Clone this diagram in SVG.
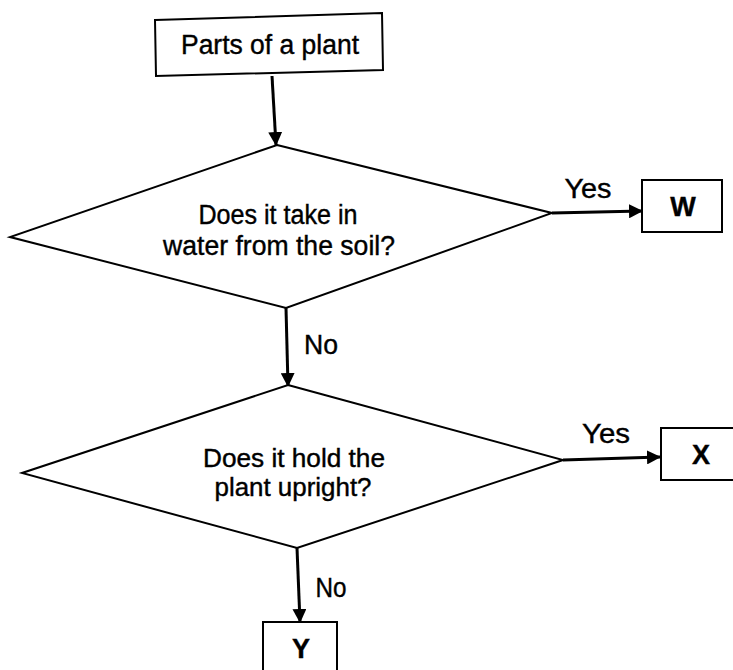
<svg xmlns="http://www.w3.org/2000/svg" width="733" height="670" viewBox="0 0 733 670">
<defs>
<style>
.shape{fill:#fff;stroke:#000;stroke-width:2;stroke-linejoin:miter}
.conn{fill:none;stroke:#000;stroke-width:3}
.t{font-family:"Liberation Sans",Arial,sans-serif;font-size:27px;fill:#000;stroke:#000;stroke-width:0.4;text-anchor:middle}
.s{font-size:25px}
.b{font-weight:bold}
</style>
<marker id="ah" viewBox="0 0 14 14" refX="13" refY="7" markerWidth="14" markerHeight="14" markerUnits="userSpaceOnUse" orient="auto">
<path d="M0,0 L14,7 L0,14 Z" fill="#000"/>
</marker>
</defs>
<rect width="733" height="670" fill="#fff"/>
<g id="connectors">
<line class="conn" x1="272" y1="76" x2="276" y2="145" marker-end="url(#ah)"/>
<line class="conn" x1="552" y1="213" x2="642" y2="211" marker-end="url(#ah)"/>
<line class="conn" x1="286" y1="308" x2="288" y2="386" marker-end="url(#ah)"/>
<line class="conn" x1="563" y1="460" x2="660" y2="457" marker-end="url(#ah)"/>
<line class="conn" x1="297" y1="548" x2="300" y2="622" marker-end="url(#ah)"/>
<text class="t" x="588" y="198" textLength="47" lengthAdjust="spacingAndGlyphs">Yes</text>
<text class="t" x="321" y="354" textLength="34" lengthAdjust="spacingAndGlyphs">No</text>
<text class="t" x="606" y="443" textLength="48" lengthAdjust="spacingAndGlyphs">Yes</text>
<text class="t" x="331" y="597" textLength="31" lengthAdjust="spacingAndGlyphs">No</text>
</g>
<g id="start">
<polygon class="shape" points="155,20 382,13 383,70 156,76"/>
<text class="t" x="270" y="54" textLength="178" lengthAdjust="spacingAndGlyphs">Parts of a plant</text>
</g>
<g id="decision1">
<polygon class="shape" points="277,145 552,213 286,308 10,237"/>
<text class="t" x="278" y="224" textLength="159" lengthAdjust="spacingAndGlyphs">Does it take in</text>
<text class="t" x="279" y="255" textLength="232" lengthAdjust="spacingAndGlyphs">water from the soil?</text>
</g>
<g id="W">
<rect class="shape" x="642" y="180" width="80" height="52"/>
<text class="t b" x="683" y="216">W</text>
</g>
<g id="decision2">
<polygon class="shape" points="288,385 563,460 297,548 22,473"/>
<text class="t s" x="294" y="467" textLength="182" lengthAdjust="spacingAndGlyphs">Does it hold the</text>
<text class="t s" x="293" y="496" textLength="157" lengthAdjust="spacingAndGlyphs">plant upright?</text>
</g>
<g id="X">
<rect class="shape" x="661" y="428" width="80" height="52"/>
<text class="t b" x="701" y="464">X</text>
</g>
<g id="Y">
<rect class="shape" x="263" y="622" width="74" height="60"/>
<text class="t b" x="301" y="658">Y</text>
</g>
</svg>
